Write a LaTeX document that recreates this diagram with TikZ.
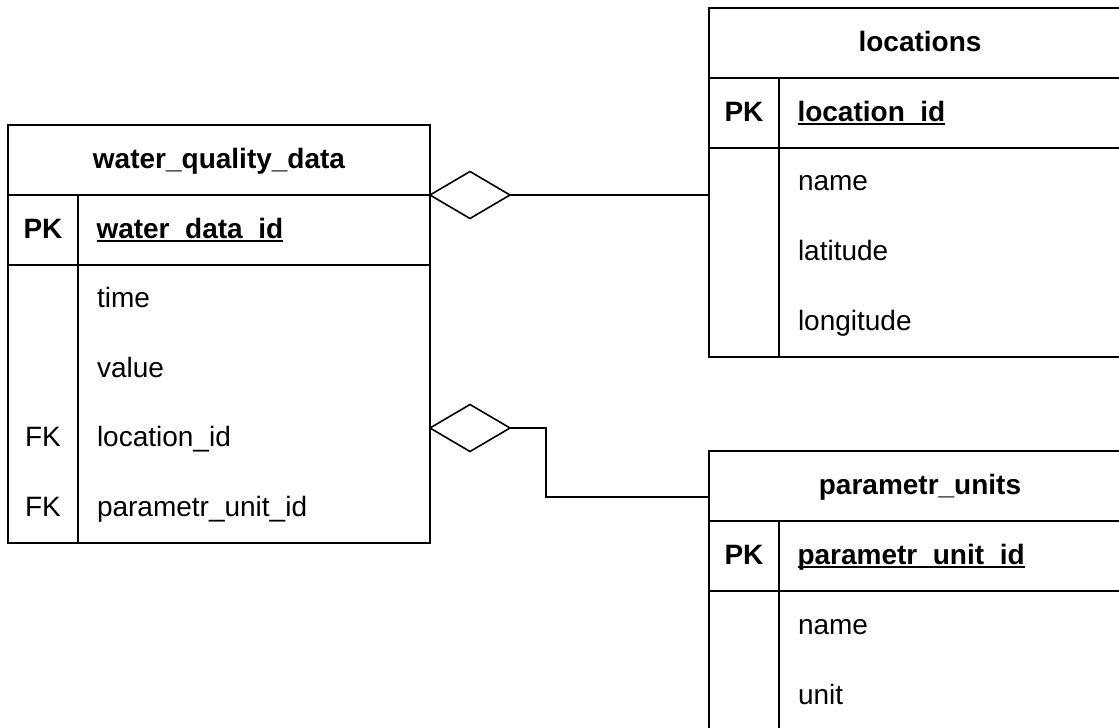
\documentclass[tikz,border=0pt]{standalone}
\usepackage{fontspec}
\setmainfont{Liberation Sans}
\usetikzlibrary{positioning,shapes.geometric,calc}

\newcommand{\erfont}{\fontsize{28}{34}\selectfont}
\newsavebox{\pkbox}
\newcommand{\pkname}[1]{\sbox{\pkbox}{#1}\rlap{\rule[-4pt]{\wd\pkbox}{1.6pt}}\usebox{\pkbox}}

\begin{document}
\begin{tikzpicture}[
  x=1pt, y=-1pt,
  every node/.style={inner sep=0pt, outer sep=0pt, text height=21pt, text depth=5pt},
  tablehead/.style={draw, line width=1.6pt, anchor=north west, minimum width=422pt, minimum height=70pt, font=\erfont\bfseries},
  keycell/.style={draw, line width=1.6pt, anchor=north west, minimum width=70pt, minimum height=70pt, font=\erfont\bfseries},
  pkcell/.style={draw, line width=1.6pt, anchor=north west, minimum width=352pt, minimum height=70pt, text width=315pt, inner xsep=18.5pt, align=left, font=\erfont\bfseries},
  keycol/.style={draw, line width=1.6pt, anchor=north west, minimum width=70pt, text height=0pt, text depth=0pt},
  fieldcol/.style={draw, line width=1.6pt, anchor=north west, minimum width=352pt, text height=0pt, text depth=0pt},
  field/.style={anchor=west, font=\erfont},
  fkey/.style={font=\erfont},
  rel/.style={draw, line width=1.6pt, diamond, anchor=west, minimum width=80pt, minimum height=47pt, text height=0pt, text depth=0pt},
  link/.style={line width=1.6pt}
]
\useasboundingbox (0,0) rectangle (1119,728);

% water_quality_data
\node[tablehead] (wqd) at (8,125) {water\_quality\_data};
\node[keycell] (wqd-pk) at (wqd.south west) {PK};
\node[pkcell] (wqd-id) at (wqd-pk.north east) {\pkname{water\_data\_id}};
\node[keycol, minimum height=278pt] (wqd-keys) at (wqd-pk.south west) {};
\node[fieldcol, minimum height=278pt] (wqd-cols) at (wqd-keys.north east) {};
\foreach \f [count=\i] in {time, value, location\_id, parametr\_unit\_id}
  \node[field] (wqd-f\i) at ([xshift=19pt, yshift={-(\i-0.5)*69.5pt}]wqd-cols.north west) {\f};
\node[fkey] (wqd-fk3) at (wqd-keys.north |- wqd-f3) {FK};
\node[fkey] (wqd-fk4) at (wqd-keys.north |- wqd-f4) {FK};

% locations
\node[tablehead] (loc) at (709,8) {locations};
\node[keycell] (loc-pk) at (loc.south west) {PK};
\node[pkcell] (loc-id) at (loc-pk.north east) {\pkname{location\_id}};
\node[keycol, minimum height=209pt] (loc-keys) at (loc-pk.south west) {};
\node[fieldcol, minimum height=209pt] (loc-cols) at (loc-keys.north east) {};
\foreach \f [count=\i] in {name, latitude, longitude}
  \node[field] (loc-f\i) at ([xshift=19pt, yshift={-(\i-0.5)*69.67pt}]loc-cols.north west) {\f};

% parametr_units
\node[tablehead] (par) at (709,451) {parametr\_units};
\node[keycell] (par-pk) at (par.south west) {PK};
\node[pkcell] (par-id) at (par-pk.north east) {\pkname{parametr\_unit\_id}};
\node[keycol, minimum height=140pt] (par-keys) at (par-pk.south west) {};
\node[fieldcol, minimum height=140pt] (par-cols) at (par-keys.north east) {};
\foreach \f [count=\i] in {name, unit}
  \node[field] (par-f\i) at ([xshift=19pt, yshift={-(\i-0.5)*70pt}]par-cols.north west) {\f};

% relations
\node[rel] (r-loc) at (wqd.south east) {};
\draw[link] (r-loc.east) -- (r-loc.east -| loc-keys.west);

\node[rel] (r-par) at ([yshift=-163pt]wqd-cols.north east) {};
\draw[link] (r-par.east) -- ++(36,0) |- ([yshift=-11pt]par.west);
\end{tikzpicture}
\end{document}
